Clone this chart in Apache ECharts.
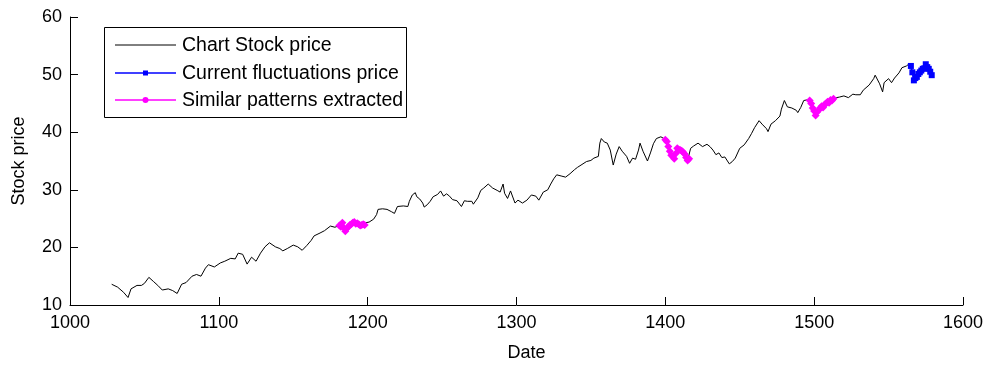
<!DOCTYPE html>
<html>
<head>
<meta charset="utf-8">
<script src="https://cdn.jsdelivr.net/npm/echarts@6/dist/echarts.min.js"></script>
<style>
  html, body { margin: 0; padding: 0; background: #fff; }
  #chart { width: 986px; height: 367px; }
</style>
</head>
<body>
<div id="chart"></div>
<script>
// Daily closing price of the chart stock
const priceDates = [
  1028, 1032, 1036, 1039, 1041, 1045, 1048, 1050, 1053, 1056, 1059, 1062, 1066, 1069, 1072, 1075,
  1078, 1082, 1085, 1088, 1091, 1093, 1097, 1101, 1104, 1108, 1111, 1113, 1116, 1119, 1122, 1125,
  1128, 1131, 1134, 1138, 1141, 1143, 1146, 1150, 1153, 1156, 1159, 1162, 1164, 1168, 1171, 1175,
  1178,
  1199, 1201, 1204, 1206, 1207, 1210, 1213, 1216, 1218, 1220, 1224, 1227, 1228, 1230, 1232, 1233,
  1235, 1237, 1238, 1240, 1242, 1244, 1247, 1249, 1251, 1253, 1255, 1257, 1260, 1263, 1265, 1267,
  1270, 1271, 1274, 1276, 1278, 1281, 1284, 1287, 1289, 1291, 1292, 1294, 1296, 1299, 1301, 1304,
  1307, 1310, 1313, 1315, 1318, 1321, 1323, 1325, 1327, 1330, 1333, 1336, 1339, 1341, 1344, 1347,
  1350, 1352, 1355, 1356, 1357, 1359, 1361, 1363, 1365, 1366, 1367, 1369, 1371, 1374, 1376, 1378,
  1380, 1382, 1383, 1385, 1388, 1390, 1392, 1394, 1397, 1399,
  1417, 1419, 1422, 1425, 1428, 1430, 1432, 1434, 1436, 1438, 1440, 1443, 1445, 1447, 1450, 1453,
  1456, 1458, 1460, 1463, 1465, 1468, 1469, 1471, 1474, 1477, 1478, 1480, 1482, 1485, 1488, 1489,
  1491, 1493, 1495,
  1515, 1517, 1520, 1523, 1526, 1528, 1531, 1533, 1537, 1540, 1541, 1544, 1546, 1547, 1550, 1552,
  1554, 1557, 1559, 1562, 1564
];
const priceValues = [
  13.6, 13.1, 12.2, 11.3, 12.8, 13.4, 13.4, 13.75, 14.8, 14.1, 13.4, 12.6, 12.8, 12.5, 12.0, 13.6,
  13.9, 15.0, 15.3, 15.0, 16.4, 17.0, 16.6, 17.3, 17.6, 18.1, 18.0, 19.0, 18.8, 17.1, 18.3, 17.6,
  19.0, 20.1, 20.8, 20.1, 19.8, 19.4, 19.8, 20.4, 20.1, 19.5, 20.3, 21.2, 22.0, 22.5, 22.9, 23.7,
  23.5,
  24.3, 24.4, 24.9, 25.7, 26.6, 26.7, 26.6, 26.2, 25.9, 27.1, 27.2, 27.1, 28.0, 29.1, 29.5, 28.8,
  28.4, 27.7, 27.0, 27.4, 28.0, 28.8, 29.2, 29.8, 28.9, 29.3, 28.9, 28.3, 28.1, 27.1, 28.1, 28.0,
  28.0, 27.5, 28.6, 29.9, 30.3, 31.0, 30.3, 29.9, 29.6, 31.0, 29.4, 28.5, 29.8, 27.7, 28.2, 27.7,
  28.2, 29.1, 28.9, 28.2, 29.6, 30.0, 31.0, 31.9, 32.6, 32.4, 32.2, 32.8, 33.5, 33.9, 34.4, 34.9,
  35.1, 35.5, 35.8, 38.1, 38.9, 38.3, 38.1, 36.9, 34.3, 34.1, 36.2, 37.5, 36.7, 35.8, 34.6, 35.5,
  35.3, 36.9, 38.1, 36.7, 35.0, 36.4, 38.0, 38.9, 39.2, 38.9,
  37.2, 37.6, 38.1, 37.5, 37.9, 37.5, 36.9, 36.1, 36.4, 35.6, 35.7, 34.5, 34.9, 35.5, 37.2, 37.8,
  38.9, 39.8, 40.8, 42.0, 41.4, 40.6, 40.1, 41.4, 42.0, 42.8, 44.0, 45.5, 44.4, 44.2, 43.8, 43.4,
  44.3, 45.5, 45.6,
  46.0, 46.1, 46.3, 46.0, 46.6, 46.5, 46.5, 47.3, 48.2, 49.3, 49.9, 48.4, 47.0, 48.6, 49.3, 48.6,
  49.4, 50.3, 51.2, 51.5, 51.9
];

// Similar patterns extracted from the history
const patternDates1  = [1181, 1182, 1183, 1184, 1185, 1186, 1187, 1188, 1189, 1190, 1191, 1192, 1193, 1194, 1195, 1196, 1197, 1198];
const patternValues1 = [23.8, 23.6, 24.3, 23.4, 22.8, 23.3, 23.6, 23.9, 24.0, 24.3, 24.4, 24.1, 24.2, 24.0, 23.8, 23.9, 24.0, 23.9];
const patternDates2  = [1400, 1401, 1402, 1403, 1404, 1405, 1406, 1407, 1408, 1409, 1410, 1411, 1412, 1413, 1414, 1415, 1416];
const patternValues2 = [38.7, 38.4, 37.5, 36.7, 36.0, 35.8, 35.4, 36.3, 37.2, 37.0, 36.9, 36.8, 36.5, 36.2, 35.6, 35.1, 35.4];
const patternDates3  = [1497, 1498, 1499, 1500, 1501, 1502, 1503, 1504, 1505, 1506, 1507, 1508, 1509, 1510, 1511, 1512, 1513];
const patternValues3 = [45.5, 45.0, 44.2, 43.7, 42.9, 43.5, 43.8, 44.2, 44.5, 44.3, 44.8, 45.0, 45.3, 45.1, 45.6, 45.5, 45.8];

// Current price fluctuation window
const currentDates  = [1565, 1566, 1567, 1568, 1569, 1570, 1571, 1572, 1573, 1574, 1575, 1576, 1577, 1578, 1579];
const currentValues = [51.5, 50.4, 49.0, 49.4, 49.6, 50.1, 50.4, 50.7, 51.0, 51.1, 51.8, 51.3, 51.0, 50.5, 49.9];

// Axis ticks and legend entries
const xTicks = [1000, 1100, 1200, 1300, 1400, 1500, 1600];
const yTicks = [10, 20, 30, 40, 50, 60];
const legendNames = ['Chart Stock price', 'Current fluctuations price', 'Similar patterns extracted'];

const zip = (xs, ys) => xs.map((x, i) => [x, ys[i]]);

const patterns = [
  zip(patternDates1, patternValues1),
  zip(patternDates2, patternValues2),
  zip(patternDates3, patternValues3)
];

// The full price line runs through the pattern windows as well
const fullPrice = zip(priceDates, priceValues)
  .concat(...patterns)
  .sort((a, b) => a[0] - b[0]);

const FONT = 'Liberation Sans, Arial, sans-serif';
const INK = '#000';
const BLACK = '#000000', BLUE = '#0000ff', MAGENTA = '#ff00ff';

const patternSeries = patterns.map((pts) => ({
  name: legendNames[2],
  type: 'line',
  data: pts,
  z: 3,
  symbol: 'diamond',
  symbolSize: 8,
  showSymbol: true,
  lineStyle: { color: MAGENTA, width: 1.5 },
  itemStyle: { color: MAGENTA },
  animation: false
}));

// Boxed legend in the upper-left corner of the axes
const LG = { x: 104, y: 27, w: 302, h: 90, rows: [45, 73, 100], lineX0: 115, lineX1: 176, textX: 182 };
const legendColors = [BLACK, BLUE, MAGENTA];
const legendGraphics = [
  {
    type: 'rect', z: 100,
    shape: { x: LG.x + 0.5, y: LG.y + 0.5, width: LG.w, height: LG.h },
    style: { fill: '#fff', stroke: '#000', lineWidth: 1 }
  }
];
legendNames.forEach((name, i) => {
  const y = LG.rows[i];
  legendGraphics.push({
    type: 'line', z: 101,
    shape: { x1: LG.lineX0, y1: y, x2: LG.lineX1, y2: y },
    style: { stroke: legendColors[i], lineWidth: i === 0 ? 1 : 1.5 }
  });
  if (i === 1) {
    legendGraphics.push({
      type: 'rect', z: 102,
      shape: { x: (LG.lineX0 + LG.lineX1) / 2 - 2.5, y: y - 2.5, width: 5, height: 5 },
      style: { fill: BLUE }
    });
  } else if (i === 2) {
    legendGraphics.push({
      type: 'circle', z: 102,
      shape: { cx: (LG.lineX0 + LG.lineX1) / 2, cy: y, r: 3 },
      style: { fill: MAGENTA }
    });
  }
  legendGraphics.push({
    type: 'text', z: 102,
    x: LG.textX, y: y + 1,
    style: {
      text: name, fill: INK,
      font: '19.5px ' + FONT,
      textVerticalAlign: 'middle', verticalAlign: 'middle'
    }
  });
});

const chart = echarts.init(document.getElementById('chart'), null, { renderer: 'canvas' });

chart.setOption({
  animation: false,
  backgroundColor: '#fff',
  grid: { left: 70, right: 22, top: 17, bottom: 52, containLabel: false },
  xAxis: {
    type: 'value',
    min: xTicks[0],
    max: xTicks[xTicks.length - 1],
    interval: 100,
    name: 'Date',
    nameLocation: 'middle',
    nameGap: 39,
    nameTextStyle: { fontFamily: FONT, fontSize: 18, color: INK, padding: [0, 0, 0, 20] },
    axisLine: { show: true, onZero: false, lineStyle: { color: INK, width: 1 } },
    axisTick: { show: true, inside: true, length: 8, lineStyle: { color: INK } },
    axisLabel: { fontFamily: FONT, fontSize: 18, color: INK, margin: 9, formatter: (v) => String(v) },
    splitLine: { show: false }
  },
  yAxis: {
    type: 'value',
    min: yTicks[0],
    max: yTicks[yTicks.length - 1],
    interval: 10,
    name: 'Stock price',
    nameLocation: 'middle',
    nameGap: 42,
    nameTextStyle: { fontFamily: FONT, fontSize: 18, color: INK },
    axisLine: { show: true, onZero: false, lineStyle: { color: INK, width: 1 } },
    axisTick: { show: true, inside: true, length: 8, lineStyle: { color: INK } },
    axisLabel: { fontFamily: FONT, fontSize: 18, color: INK, margin: 8, formatter: (v) => String(v) },
    splitLine: { show: false }
  },
  graphic: legendGraphics,
  series: [
    {
      name: legendNames[0],
      type: 'line',
      data: fullPrice,
      z: 2,
      showSymbol: false,
      symbol: 'none',
      lineStyle: { color: BLACK, width: 1 },
      itemStyle: { color: BLACK },
      animation: false
    },
    {
      name: legendNames[1],
      type: 'line',
      data: zip(currentDates, currentValues),
      z: 4,
      symbol: 'rect',
      symbolSize: 6,
      showSymbol: true,
      lineStyle: { color: BLUE, width: 1.5 },
      itemStyle: { color: BLUE },
      animation: false
    }
  ].concat(patternSeries)
});
</script>
</body>
</html>
